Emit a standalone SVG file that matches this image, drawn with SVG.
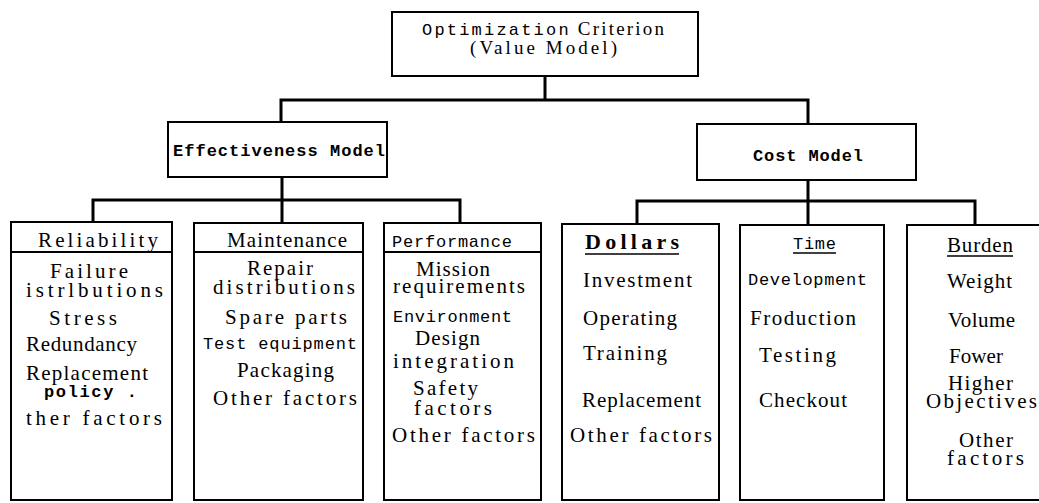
<svg xmlns="http://www.w3.org/2000/svg" width="1039" height="503" viewBox="0 0 1039 503">
<style>
  .box { fill: #fff; stroke: #000; stroke-width: 2; }
  .hdr { stroke: #000; stroke-width: 2; }
  .conn { fill: none; stroke: #000; stroke-width: 3; stroke-linecap: square; }
  .ul { stroke: #000; stroke-width: 1.6; }
  text { fill: #000; }
  .s { font-family: "Liberation Serif", "Times New Roman", serif; font-size: 21px; }
  .m { font-family: "Liberation Mono", "Courier New", monospace; font-size: 17px; }
  .mb { font-family: "Liberation Mono", "Courier New", monospace; font-size: 17px; font-weight: bold; }
  .sb { font-family: "Liberation Serif", "Times New Roman", serif; font-size: 22px; font-weight: bold; }
  .t { font-family: "Liberation Serif", "Times New Roman", serif; font-size: 19px; }
</style>
<rect width="1039" height="503" fill="#fff"/>

<g id="connectors">
  <path class="conn" d="M545,76 V100 M281,100 H808 M281,100 V122 M808,100 V124"/>
  <path class="conn" d="M282,177 V200 M93,200 H460 M93,200 V222 M282,200 V223 M460,200 V223"/>
  <path class="conn" d="M808,180 V201 M637,201 H975 M637,201 V224 M808,201 V225 M975,201 V225"/>
</g>

<g id="optimization">
  <rect class="box" x="392" y="12" width="306" height="64"/>
  <text class="t" x="422" y="35" textLength="242" lengthAdjust="spacing"><tspan class="m">Optimization</tspan> Criterion</text>
  <text class="t" x="470" y="54" textLength="147" lengthAdjust="spacing">(Value Model)</text>
</g>

<g id="effectiveness">
  <rect class="box" x="168" y="122" width="219" height="55"/>
  <text class="mb" x="173" y="156" textLength="212" lengthAdjust="spacing">Effectiveness Model</text>
</g>

<g id="cost">
  <rect class="box" x="697" y="124" width="219" height="56"/>
  <text class="mb" x="753" y="161" textLength="110" lengthAdjust="spacing">Cost Model</text>
</g>

<g id="reliability">
  <rect class="box" x="11" y="222" width="161" height="278"/>
  <line class="hdr" x1="11" y1="252" x2="172" y2="252"/>
  <text class="s" x="38" y="247" textLength="120" lengthAdjust="spacing">Reliability</text>
  <text class="s" x="50" y="278" textLength="78" lengthAdjust="spacing">Failure</text>
  <text class="s" x="26" y="297" textLength="137" lengthAdjust="spacing">istrlbutions</text>
  <text class="s" x="49" y="325" textLength="68" lengthAdjust="spacing">Stress</text>
  <text class="s" x="26" y="351" textLength="111" lengthAdjust="spacing">Redundancy</text>
  <text class="s" x="26" y="380" textLength="122" lengthAdjust="spacing">Replacement</text>
  <text class="mb" x="44" y="397" textLength="93" lengthAdjust="spacing">policy .</text>
  <text class="s" x="26" y="425" textLength="136" lengthAdjust="spacing">ther factors</text>
</g>

<g id="maintenance">
  <rect class="box" x="194" y="223" width="169" height="277"/>
  <line class="hdr" x1="194" y1="252" x2="363" y2="252"/>
  <text class="s" x="227" y="247" textLength="120" lengthAdjust="spacing">Maintenance</text>
  <text class="s" x="247" y="275" textLength="66" lengthAdjust="spacing">Repair</text>
  <text class="s" x="213" y="294" textLength="142" lengthAdjust="spacing">distributions</text>
  <text class="s" x="225" y="324" textLength="122" lengthAdjust="spacing">Spare parts</text>
  <text class="m" x="203" y="349" textLength="154" lengthAdjust="spacing">Test equipment</text>
  <text class="s" x="237" y="377" textLength="97" lengthAdjust="spacing">Packaging</text>
  <text class="s" x="213" y="405" textLength="144" lengthAdjust="spacing">Other factors</text>
</g>

<g id="performance">
  <rect class="box" x="384" y="223" width="157" height="277"/>
  <line class="hdr" x1="384" y1="252" x2="541" y2="252"/>
  <text class="m" x="392" y="247" textLength="120" lengthAdjust="spacing">Performance</text>
  <text class="s" x="416" y="276" textLength="74" lengthAdjust="spacing">Mission</text>
  <text class="s" x="393" y="293" textLength="132" lengthAdjust="spacing">requirements</text>
  <text class="m" x="393" y="322" textLength="119" lengthAdjust="spacing">Environment</text>
  <text class="s" x="415" y="345" textLength="65" lengthAdjust="spacing">Design</text>
  <text class="s" x="393" y="368" textLength="121" lengthAdjust="spacing">integration</text>
  <text class="s" x="413" y="395" textLength="65" lengthAdjust="spacing">Safety</text>
  <text class="s" x="414" y="415" textLength="78" lengthAdjust="spacing">factors</text>
  <text class="s" x="392" y="442" textLength="143" lengthAdjust="spacing">Other factors</text>
</g>

<g id="dollars">
  <rect class="box" x="562" y="224" width="157" height="276"/>
  <text class="sb" x="585" y="249" textLength="94" lengthAdjust="spacing">Dollars</text>
  <line class="ul" x1="585" y1="254" x2="679" y2="254"/>
  <text class="s" x="583" y="287" textLength="109" lengthAdjust="spacing">Investment</text>
  <text class="s" x="583" y="325" textLength="94" lengthAdjust="spacing">Operating</text>
  <text class="s" x="583" y="360" textLength="84" lengthAdjust="spacing">Training</text>
  <text class="s" x="582" y="407" textLength="119" lengthAdjust="spacing">Replacement</text>
  <text class="s" x="570" y="442" textLength="142" lengthAdjust="spacing">Other factors</text>
</g>

<g id="time">
  <rect class="box" x="740" y="225" width="144" height="275"/>
  <text class="m" x="793" y="249" textLength="43" lengthAdjust="spacing">Time</text>
  <line class="ul" x1="793" y1="253" x2="836" y2="253"/>
  <text class="m" x="748" y="285" textLength="119" lengthAdjust="spacing">Development</text>
  <text class="s" x="750" y="325" textLength="106" lengthAdjust="spacing">Froduction</text>
  <text class="s" x="759" y="362" textLength="77" lengthAdjust="spacing">Testing</text>
  <text class="s" x="759" y="407" textLength="88" lengthAdjust="spacing">Checkout</text>
</g>

<g id="burden">
  <rect class="box" x="907" y="225" width="140" height="275"/>
  <text class="s" x="947" y="252" textLength="66" lengthAdjust="spacing">Burden</text>
  <line class="ul" x1="947" y1="256" x2="1013" y2="256"/>
  <text class="s" x="947" y="288" textLength="65" lengthAdjust="spacing">Weight</text>
  <text class="s" x="948" y="327" textLength="67" lengthAdjust="spacing">Volume</text>
  <text class="s" x="949" y="363" textLength="54" lengthAdjust="spacing">Fower</text>
  <text class="s" x="948" y="390" textLength="65" lengthAdjust="spacing">Higher</text>
  <text class="s" x="926" y="408" textLength="111" lengthAdjust="spacing">Objectives</text>
  <text class="s" x="959" y="447" textLength="54" lengthAdjust="spacing">Other</text>
  <text class="s" x="947" y="465" textLength="77" lengthAdjust="spacing">factors</text>
</g>
</svg>
